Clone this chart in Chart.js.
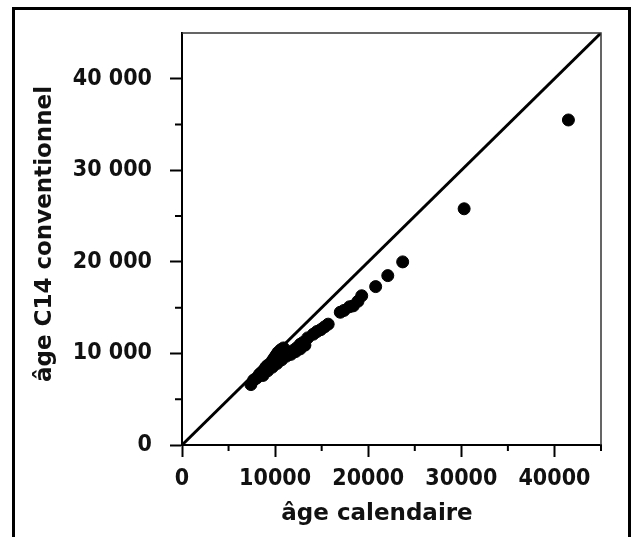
<!DOCTYPE html>
<html lang="fr">
<head>
<meta charset="utf-8">
<title>âge C14 conventionnel / âge calendaire</title>
<script src="https://cdn.jsdelivr.net/npm/chart.js@4.4.1/dist/chart.umd.min.js"></script>
<style>
    html, body { margin: 0; padding: 0; background: #fff; }
    canvas { display: block; }
</style>
</head>
<body>
<canvas id="myChart" width="633" height="537"></canvas>
<script>
// calendar age (x) and conventional C14 age (y) of each sample
const calendarAges = [
    7400, 7700, 8000, 8300, 8500, 8800, 9000, 9200, 9500, 9700,
    9900, 10100, 10300, 10600, 10900, 11100, 11500, 11900, 12300, 12700,
    13000, 13500, 14100, 14500, 14900, 15300, 15700, 17000, 17400, 18000,
    18400, 18900, 19300, 20800, 22100, 23700, 30300, 41500,
    8700, 9200, 9700, 10200, 10700, 11200, 11700, 12200, 12700, 13200
];
const c14Ages = [
    6600, 7100, 7300, 7700, 7900, 8200, 8500, 8700, 8900, 9200,
    9500, 9800, 10100, 10400, 10600, 10000, 10100, 10300, 10600, 11000,
    11200, 11700, 12100, 12400, 12600, 12900, 13200, 14500, 14700, 15100,
    15200, 15700, 16300, 17300, 18500, 20000, 25800, 35500,
    7600, 8100, 8500, 8900, 9300, 9700, 9900, 10200, 10500, 10900
];
// 1:1 reference line
const refLineX = [0, 45000];
const refLineY = [0, 45000];

const axisMin = 0;
const axisMax = 45000;
const tickStep = 5000;
const labelStep = 10000;

const xTitle = 'âge calendaire';
const yTitle = 'âge C14 conventionnel';

document.addEventListener('DOMContentLoaded', function () {
    const tickFont = {
        family: "'DejaVu Sans Condensed', 'Liberation Sans', sans-serif",
        weight: 'bold',
        size: 23
    };
    const titleFont = "bold 23px 'DejaVu Sans', sans-serif";

    const isMajor = v => v % labelStep === 0 && v < axisMax;

    // frame, minor ticks and axis titles
    const decorations = {
        id: 'decorations',
        beforeDraw(chart) {
            const ctx = chart.ctx;
            ctx.save();
            ctx.fillStyle = '#fff';
            ctx.fillRect(0, 0, chart.width, chart.height);
            ctx.restore();
        },
        afterDraw(chart) {
            const ctx = chart.ctx;
            const area = chart.chartArea;
            const xs = chart.scales.x;
            const ys = chart.scales.y;
            ctx.save();

            // thin top / right border of the plot
            ctx.strokeStyle = '#333';
            ctx.lineWidth = 1.5;
            ctx.beginPath();
            ctx.moveTo(area.left, area.top);
            ctx.lineTo(area.right, area.top);
            ctx.lineTo(area.right, area.bottom);
            ctx.stroke();

            // short minor ticks
            ctx.strokeStyle = '#000';
            ctx.lineWidth = 2;
            ctx.beginPath();
            xs.ticks.forEach(t => {
                if (!isMajor(t.value)) {
                    const px = xs.getPixelForValue(t.value);
                    ctx.moveTo(px, area.bottom);
                    ctx.lineTo(px, area.bottom + 6);
                }
            });
            ys.ticks.forEach(t => {
                if (!isMajor(t.value) && t.value < axisMax) {
                    const py = ys.getPixelForValue(t.value);
                    ctx.moveTo(area.left, py);
                    ctx.lineTo(area.left - 7, py);
                }
            });
            ctx.stroke();

            // axis titles
            ctx.fillStyle = '#111';
            ctx.font = titleFont;
            ctx.textAlign = 'center';
            ctx.textBaseline = 'alphabetic';
            ctx.fillText(xTitle, 377, 520);
            ctx.translate(51, 234);
            ctx.rotate(-Math.PI / 2);
            ctx.fillText(yTitle, 0, 0);

            // outer frame
            ctx.setTransform(1, 0, 0, 1, 0, 0);
            ctx.strokeStyle = '#000';
            ctx.lineWidth = 3;
            ctx.strokeRect(13.5, 8.5, 616, 545);
            ctx.restore();
        }
    };

    const chartElement = document.getElementById('myChart');
    const cty = chartElement.getContext('2d');
    new Chart(cty, {
        type: 'scatter',
        data: {
            datasets: [{
                label: 'échantillons',
                data: calendarAges.map((x, i) => ({ x: x, y: c14Ages[i] })),
                backgroundColor: '#000',
                borderColor: '#000',
                pointRadius: 6,
                pointHoverRadius: 6
            }, {
                label: '1:1',
                data: refLineX.map((x, i) => ({ x: x, y: refLineY[i] })),
                showLine: true,
                borderColor: '#000',
                borderWidth: 3,
                pointRadius: 0,
                fill: false
            }]
        },
        options: {
            responsive: false,
            animation: false,
            layout: {
                padding: { top: 33, right: 32, left: 0, bottom: 0 }
            },
            plugins: {
                legend: { display: false },
                tooltip: { enabled: false }
            },
            scales: {
                x: {
                    type: 'linear',
                    min: axisMin,
                    max: axisMax,
                    afterFit: function (scale) { scale.height = 92; },
                    border: { display: true, color: '#000', width: 2 },
                    grid: {
                        drawOnChartArea: false,
                        tickLength: 12,
                        tickWidth: 2,
                        tickColor: ctx => isMajor(ctx.tick.value) ? '#000' : 'rgba(0,0,0,0)'
                    },
                    ticks: {
                        stepSize: tickStep,
                        autoSkip: false,
                        maxRotation: 0,
                        padding: 8,
                        color: '#111',
                        font: tickFont,
                        callback: v => isMajor(v) ? String(v) : ''
                    },
                    title: { display: false }
                },
                y: {
                    type: 'linear',
                    min: axisMin,
                    max: axisMax,
                    afterFit: function (scale) { scale.width = 182; },
                    border: { display: true, color: '#000', width: 2 },
                    grid: {
                        drawOnChartArea: false,
                        tickLength: 12,
                        tickWidth: 2,
                        tickColor: ctx => isMajor(ctx.tick.value) ? '#000' : 'rgba(0,0,0,0)'
                    },
                    ticks: {
                        stepSize: tickStep,
                        autoSkip: false,
                        padding: 18,
                        color: '#111',
                        font: tickFont,
                        callback: v => isMajor(v) ? String(v).replace(/\B(?=(\d{3})+(?!\d))/g, ' ') : ''
                    },
                    title: { display: false }
                }
            }
        },
        plugins: [decorations]
    });
});
</script>
</body>
</html>
